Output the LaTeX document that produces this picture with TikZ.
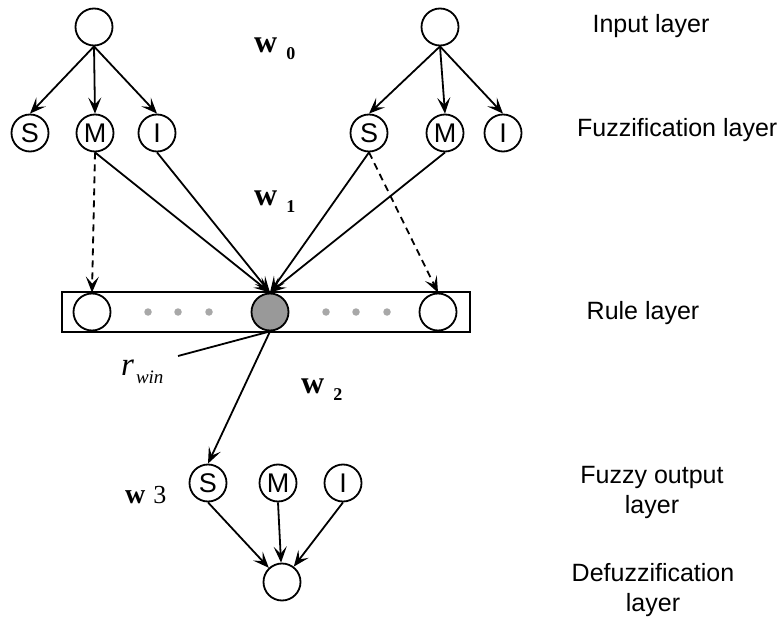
\documentclass[tikz,border=0pt]{standalone}
\usepackage{fontspec}
\setmainfont{Liberation Sans}
\newfontfamily\serifw{Liberation Serif}
\usetikzlibrary{arrows.meta}

\definecolor{winfill}{HTML}{999999}
\definecolor{dotgray}{HTML}{A8A8A8}

\tikzset{
  neuron/.style={circle, draw, line width=1.8pt, minimum size=37pt, inner sep=0pt,
                 font=\fontsize{27}{27}\selectfont},
  link/.style={line width=1.8pt, -{Stealth[length=16pt,width=13pt,inset=7pt]}},
  weaklink/.style={link, dash pattern=on 7pt off 5pt},
  layerlabel/.style={font=\fontsize{25}{30}\selectfont, align=center, inner sep=0pt},
  weightlabel/.style={inner sep=0pt, anchor=base west},
  idle/.style={circle, fill=dotgray, minimum size=7.5pt, inner sep=0pt}
}
\newcommand{\wlab}[1]{{\serifw\bfseries\fontsize{32}{32}\selectfont w}\hspace{9pt}\raisebox{-7pt}{\serifw\bfseries\fontsize{18}{18}\selectfont #1}}

\begin{document}
\begin{tikzpicture}[x=1pt,y=-1pt]
\useasboundingbox[fill=white] (0,0) rectangle (784,620);

% input layer
\node[neuron] (in1) at (94,27) {};
\node[neuron] (in2) at (440,27) {};

% fuzzification layer
\node[neuron] (fS1) at (30,133) {S};
\node[neuron] (fM1) at (95,133) {M};
\node[neuron] (fI1) at (157,133) {I};
\node[neuron] (fS2) at (369,133) {S};
\node[neuron] (fM2) at (445,133) {M};
\node[neuron] (fI2) at (503,133) {I};

% rule layer
\node[draw, line width=2.2pt, minimum width=408pt, minimum height=40pt, inner sep=0pt] (rulebox) at (266,312) {};
\node[neuron] (r1) at (92,312) {};
\node[neuron, fill=winfill] (rg) at (270,312) {};
\node[neuron] (r2) at (438,312) {};
\foreach \x [count=\i] in {148,178,209,326,356,387}
  \node[idle] (d\i) at (\x,312) {};

% fuzzy output and defuzzification layers
\node[neuron] (oS) at (208,483) {S};
\node[neuron] (oM) at (278,483) {M};
\node[neuron] (oI) at (343,483) {I};
\node[neuron] (def) at (282,582) {};

% input -> fuzzification
\foreach \t in {fS1,fM1,fI1} \draw[link] (in1.south) -- (\t.north);
\foreach \t in {fS2,fM2,fI2} \draw[link] (in2.south) -- (\t.north);

% fuzzification -> rules
\draw[link] (fM1.south) -- (rg.north);
\draw[link] (fI1.south) -- (rg.north);
\draw[link] (fS2.south) -- (rg.north);
\draw[link] (fM2.south) -- (rg.north);
\draw[weaklink] (fM1.south) -- (r1.north);
\draw[weaklink] (fS2.south) -- (r2.north);

% winning rule -> output
\draw[link] (rg.south) -- (oS.north);
\coordinate (rwinend) at (178,356);
\draw[line width=1.8pt] (rg.south) -- (rwinend);

% output -> defuzzification
\draw[link] (oS.south) -- (def);
\draw[link] (oM.south) -- (def);
\draw[link] (oI.south) -- (def);

% weight labels
\node[weightlabel] (w0) at (254,53) {\wlab{0}};
\node[weightlabel] (w1) at (254,206) {\wlab{1}};
\node[weightlabel] (w2) at (301,393) {\wlab{2}};
\node[weightlabel] (w3) at (125,503) {{\serifw\bfseries\fontsize{28}{28}\selectfont w}\hspace{8pt}{\serifw\fontsize{26}{26}\selectfont 3}};
\node[weightlabel] (rwin) at (121,375) {{\serifw\itshape\fontsize{33}{33}\selectfont r}\hspace{2pt}\raisebox{-8pt}{\serifw\itshape\fontsize{19}{19}\selectfont win}};

% layer names
\node[layerlabel, anchor=base] (Lin) at (651,33) {Input layer};
\node[layerlabel, anchor=base west] (Lfz) at (577,137) {Fuzzification layer};
\node[layerlabel, anchor=base] (Lru) at (643,319) {Rule layer};
\node[layerlabel] (Lout) at (652,492) {Fuzzy output\\layer};
\node[layerlabel] (Ldef) at (653,590) {Defuzzification\\layer};
\end{tikzpicture}
\end{document}
